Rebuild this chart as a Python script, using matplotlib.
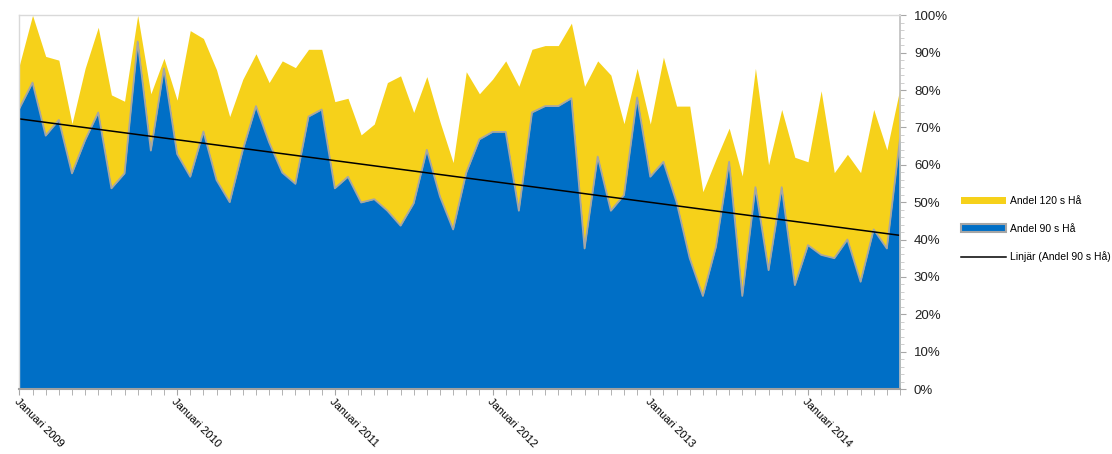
import numpy as np
import matplotlib
matplotlib.use("Agg")
import matplotlib.pyplot as plt
from matplotlib.patches import Patch
from matplotlib.lines import Line2D
from matplotlib.ticker import MultipleLocator, FuncFormatter

plt.rcParams["font.family"] = ["Liberation Sans", "DejaVu Sans"]

# monthly shares, Jan 2009 .. Aug 2014 (percent)
andel_120 = [86.7, 100, 89, 88, 71, 85.8, 96.8, 78.7, 77, 100, 79, 88.5,
             77.3, 95.9, 93.8, 85.4, 72.9, 82.9, 89.7, 82, 87.8, 86, 90.9, 90.9,
             76.9, 77.8, 68, 70.9, 82, 83.8, 74, 83.6, 71.5, 60.6, 84.9, 79,
             82.9, 87.8, 81, 90.9, 91.9, 91.9, 97.9, 81, 87.8, 84, 71, 85.8,
             70.9, 88.8, 75.7, 75.7, 52.8, 61.5, 69.8, 57, 85.8, 60, 74.8, 62,
             60.8, 79.8, 57.9, 62.8, 57.9, 74.8, 64, 80.5]
andel_90 = [75.1, 82, 67.8, 72, 57.7, 66.6, 74, 53.7, 57.7, 93, 63.8, 85.8,
            62.9, 56.8, 68.9, 55.9, 50, 64, 75.7, 66, 57.9, 54.9, 72.9, 74.8,
            53.7, 56.8, 49.9, 50.8, 47.7, 43.7, 49.7, 64, 51.5, 42.7, 57.9, 66.8,
            68.8, 68.8, 47.7, 74, 75.7, 75.7, 77.8, 37.6, 62.2, 47.7, 51.9, 78,
            56.8, 60.8, 50, 35, 24.9, 38.1, 60.8, 24.9, 54, 31.8, 54, 27.8,
            38.5, 35.9, 35, 40, 28.7, 42.7, 37.6, 67]
year_labels = ["Januari 2009", "Januari 2010", "Januari 2011",
               "Januari 2012", "Januari 2013", "Januari 2014"]

YELLOW = "#F6D11A"
BLUE = "#006FC6"
EDGE = "#A6A6A6"

x = np.arange(len(andel_90))
a120 = np.array(andel_120) / 100
a90 = np.array(andel_90) / 100

fig = plt.figure(figsize=(11.12, 4.54), dpi=100)
ax = fig.add_axes([19.4 / 1112, 1 - 389 / 454, (900 - 19.4) / 1112, (389 - 15.3) / 454])

ax.fill_between(x, 0, a120, color=YELLOW, linewidth=0)
ax.fill_between(x, 0, a90, color=BLUE, linewidth=0)
ax.plot(x, a90, color=EDGE, linewidth=1.3)

# linear trend of the 90 s share
k, m = np.polyfit(x, a90, 1)
ax.plot(x, k * x + m, color="black", linewidth=1.1)

ax.set_xlim(0, len(x) - 1)
ax.set_ylim(0, 1)

ax.yaxis.tick_right()
ax.yaxis.set_major_locator(MultipleLocator(0.1))
ax.yaxis.set_minor_locator(MultipleLocator(0.02))
ax.yaxis.set_major_formatter(FuncFormatter(lambda v, p: f"{v * 100:.0f}%"))
ax.tick_params(axis="y", which="major", length=4, color="#A6A6A6",
               labelsize=9.5, pad=6, labelcolor="#222222")
ax.tick_params(axis="y", which="minor", length=3, color="#C8C8C8")

ax.set_xticks(x, minor=True)
ax.set_xticks(x[::12])
ax.set_xticklabels(year_labels[:len(x[::12])], rotation=-45, ha="left",
                   va="top", rotation_mode="anchor", fontsize=8)
ax.tick_params(axis="x", which="both", length=4, color="#A6A6A6", pad=1)
for lbl in ax.get_xticklabels():
    lbl.set_x(lbl.get_position()[0])

for side in ("left", "top"):
    ax.spines[side].set_color("#D9D9D9")
    ax.spines[side].set_linewidth(1)
ax.spines["right"].set_color("#BFBFBF")
ax.spines["right"].set_linewidth(1.2)
ax.spines["bottom"].set_color("#A0A0A0")
ax.spines["bottom"].set_linewidth(1.5)

handles = [
    Patch(facecolor=YELLOW, edgecolor=YELLOW, linewidth=0),
    Patch(facecolor=BLUE, edgecolor=EDGE, linewidth=1.5),
    Line2D([0], [0], color="black", linewidth=1.1),
]
labels = ["Andel 120 s Hå", "Andel 90 s Hå", "Linjär (Andel 90 s Hå)"]
fig.legend(handles, labels, loc="center left",
           bbox_to_anchor=(961 / 1112, 1 - 229 / 454), frameon=False,
           fontsize=7.5, handlelength=4.3, handleheight=0.7,
           handletextpad=0.4, labelspacing=1.7, borderpad=0, borderaxespad=0)

fig.savefig("out.png", dpi=100)
